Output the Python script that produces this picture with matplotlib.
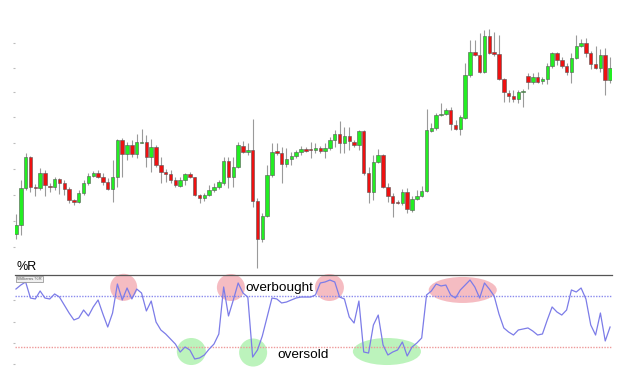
import numpy as np
import matplotlib
matplotlib.use("Agg")
import matplotlib.pyplot as plt
from matplotlib.patches import Ellipse

plt.rcParams['font.family'] = ['Liberation Sans', 'DejaVu Sans']

# candle prices (arbitrary units)
opens = [46, 55, 92, 123, 93, 92, 107, 94, 93, 101, 97, 91, 80, 78, 87, 97, 104, 107, 103, 98,
         91, 103, 140, 126, 135, 126, 137, 138, 123, 133, 115, 108, 106, 100, 94, 100, 106, 103, 85, 82,
         85, 90, 93, 97, 119, 103, 113, 134, 128, 130, 79, 41, 64, 105, 129, 127, 116, 121, 124, 128,
         131, 131, 130, 132, 129, 132, 140, 146, 137, 144, 138, 135, 149, 107, 88, 118, 125, 93, 84, 78,
         77, 88, 70, 81, 84, 89, 149, 152, 165, 166, 170, 155, 151, 162, 205, 228, 225, 208, 244, 228,
         226, 201, 187, 184, 181, 188, 204, 198, 203, 199, 201, 214, 227, 220, 214, 208, 222, 234, 237, 227,
         216, 212, 225, 200]
highs = [66, 100, 127, 124, 96, 112, 110, 97, 103, 102, 100, 93, 81, 90, 100, 107, 109, 110, 107, 102,
         120, 141, 142, 138, 140, 146, 151, 145, 141, 135, 123, 111, 110, 103, 103, 107, 108, 103, 86, 87,
         95, 97, 100, 123, 123, 123, 138, 139, 137, 161, 82, 67, 115, 137, 137, 133, 132, 128, 130, 134,
         133, 138, 137, 134, 137, 143, 150, 159, 153, 153, 140, 150, 150, 113, 125, 131, 126, 97, 87, 80,
         91, 92, 84, 90, 94, 171, 157, 167, 177, 172, 173, 160, 165, 217, 240, 240, 247, 250, 251, 248,
         245, 202, 190, 190, 190, 191, 207, 207, 208, 203, 217, 228, 228, 223, 217, 227, 245, 241, 242, 229,
         234, 231, 232, 223]
lows = [41, 45, 90, 88, 84, 90, 84, 88, 90, 86, 85, 77, 75, 77, 85, 95, 103, 102, 95, 90,
        78, 93, 103, 120, 123, 122, 137, 113, 108, 113, 97, 98, 97, 93, 93, 95, 102, 84, 77, 79,
        84, 88, 91, 95, 92, 93, 112, 127, 125, 73, 12, 38, 63, 103, 125, 97, 113, 115, 122, 125,
        128, 122, 127, 127, 122, 130, 133, 127, 127, 130, 133, 130, 105, 77, 80, 117, 92, 78, 63, 76,
        75, 67, 68, 80, 83, 88, 148, 150, 164, 165, 150, 150, 145, 161, 203, 224, 207, 207, 226, 224,
        200, 178, 178, 178, 177, 173, 191, 196, 197, 196, 196, 212, 215, 212, 205, 197, 221, 233, 223, 211,
        211, 208, 185, 197]
closes = [55, 92, 123, 93, 92, 107, 95, 93, 101, 97, 91, 80, 78, 87, 97, 104, 107, 103, 98, 91,
          103, 140, 126, 135, 126, 138, 138, 123, 133, 115, 108, 106, 100, 95, 100, 106, 103, 85, 82, 85,
          90, 93, 98, 119, 103, 113, 135, 128, 130, 79, 41, 64, 105, 128, 127, 116, 121, 124, 128, 131,
          129, 130, 132, 129, 132, 140, 146, 137, 144, 139, 135, 149, 107, 88, 118, 125, 93, 84, 77, 77,
          88, 71, 81, 84, 89, 150, 152, 165, 166, 170, 156, 151, 163, 205, 228, 225, 208, 244, 227, 226,
          201, 188, 184, 181, 188, 189, 198, 203, 198, 201, 214, 227, 220, 214, 208, 222, 234, 237, 227, 216,
          212, 225, 200, 212]

# Williams %R values
wr = [-11.8, -7.1, -3.5, -22.4, -23.5, -14.1, -22.4, -23.5, -17.6, -21.2,
      -30.6, -40.0, -48.2, -45.9, -36.5, -43.5, -32.9, -24.7, -41.2, -56.5,
      -40.0, -5.9, -24.7, -10.6, -23.5, -11.8, -16.5, -37.6, -25.9, -50.6,
      -60.0, -64.7, -70.6, -76.5, -85.9, -80.0, -83.5, -94.1, -92.9, -89.4,
      -82.4, -76.5, -64.7, -9.4, -43.5, -24.7, -4.7, -16.5, -21.2, -91.8,
      -83.5, -67.1, -44.7, -22.4, -23.5, -28.2, -27.1, -24.7, -22.4, -21.2,
      -21.2, -21.2, -18.8, -4.7, -3.5, -1.2, -3.5, -21.2, -23.5, -44.7,
      -51.8, -25.9, -85.9, -87.1, -54.1, -42.4, -77.6, -89.4, -85.9, -83.5,
      -74.1, -90.6, -80.0, -75.3, -69.4, -18.8, -14.1, -5.9, -8.2, -7.1,
      -18.8, -22.4, -12.9, -7.1, -1.2, -9.4, -22.4, -4.7, -11.8, -20.0,
      -41.2, -57.6, -62.4, -65.9, -60.0, -58.8, -57.6, -61.2, -65.9, -64.7,
      -48.2, -32.9, -38.8, -42.4, -36.5, -12.9, -15.3, -10.6, -23.5, -54.1,
      -65.9, -40.0, -72.9, -56.5]

# highlighted zones: (center index, center %R, width, height)
overbought_zones = [(22.3, -9.8, 5.6, 31.8), (44.5, -10.0, 5.8, 31.8),
                    (64.9, -10.0, 6.0, 31.8), (92.5, -12.9, 14.1, 30.6)]
oversold_zones = [(36.3, -85.3, 6.0, 31.8), (49.1, -86.5, 5.8, 33.0),
                  (76.8, -85.3, 14.1, 31.8)]

W, H = 640, 370
fig = plt.figure(figsize=(6.4, 3.7), dpi=100)
xlim = (-0.2, 123.4)

# price panel
ax = fig.add_axes([15 / W, (H - 270) / H, 597 / W, 250 / H])
x = np.arange(len(opens))
o = np.array(opens, float)
c = np.array(closes, float)
up = c >= o
cols = np.where(up, '#22ee22', '#ee1111')
ax.vlines(x, lows, highs, color='#9a9a9a', lw=0.8, zorder=1)
body = np.maximum(np.abs(c - o), 0.8)
ax.bar(x, body, bottom=np.minimum(o, c), width=0.72, color=cols,
       edgecolor='#555555', linewidth=0.4, zorder=2)
ax.set_xlim(*xlim)
ax.set_ylim(10, 260)
for s in ax.spines.values():
    s.set_visible(False)
ax.set_xticks([])
ax.set_yticks([33, 59, 85, 111, 137, 163, 188, 212, 237])
ax.set_yticklabels([])
ax.tick_params(axis='y', length=1.5, color='#bbbbbb', width=0.8)

# %R panel
ax2 = fig.add_axes([15 / W, (H - 368) / H, 597 / W, 93 / H])
ax2.set_xlim(*xlim)
ax2.set_ylim(-104.7, 4.7)
for s in ['left', 'right', 'bottom']:
    ax2.spines[s].set_visible(False)
ax2.spines['top'].set_color('#555555')
ax2.spines['top'].set_linewidth(0.9)
ax2.set_xticks([])
ax2.set_yticks([-25, -50, -75, -100])
ax2.set_yticklabels([])
ax2.tick_params(axis='y', length=1.5, color='#bbbbbb', width=0.8)

for cx, cy, w, h in overbought_zones:
    ax2.add_patch(Ellipse((cx, cy), w, h, facecolor='#f2a0a8', edgecolor='none',
                          alpha=0.7, zorder=1, clip_on=False))
for cx, cy, w, h in oversold_zones:
    ax2.add_patch(Ellipse((cx, cy), w, h, facecolor='#a6f0a6', edgecolor='none',
                          alpha=0.75, zorder=1, clip_on=False))

ax2.axhline(-20, color='#8a8aee', lw=1.0, ls=(0, (1, 1)), zorder=2)
ax2.axhline(-80, color='#ee9a9a', lw=1.0, ls=(0, (1, 1)), zorder=2)
ax2.plot(np.arange(len(wr)), wr, color='#7c7ce8', lw=0.9, zorder=3)

ax2.text(47.5, -10.5, 'overbought', fontsize=9.7, va='center', ha='left', zorder=4)
ax2.text(54.2, -89.5, 'oversold', fontsize=9.7, va='center', ha='left', zorder=4)
ax2.text(0.004, 0.975, 'Williams %R', fontsize=3.2, color='#555555', va='top', ha='left',
         transform=ax2.transAxes, zorder=4,
         bbox=dict(boxstyle='square,pad=0.25', fc='#f0f0f0', ec='#888888', lw=0.5))
fig.text(16.5 / W, (H - 270.5) / H, '%R', fontsize=9, va='baseline', ha='left')

fig.savefig('out.png', dpi=100)
